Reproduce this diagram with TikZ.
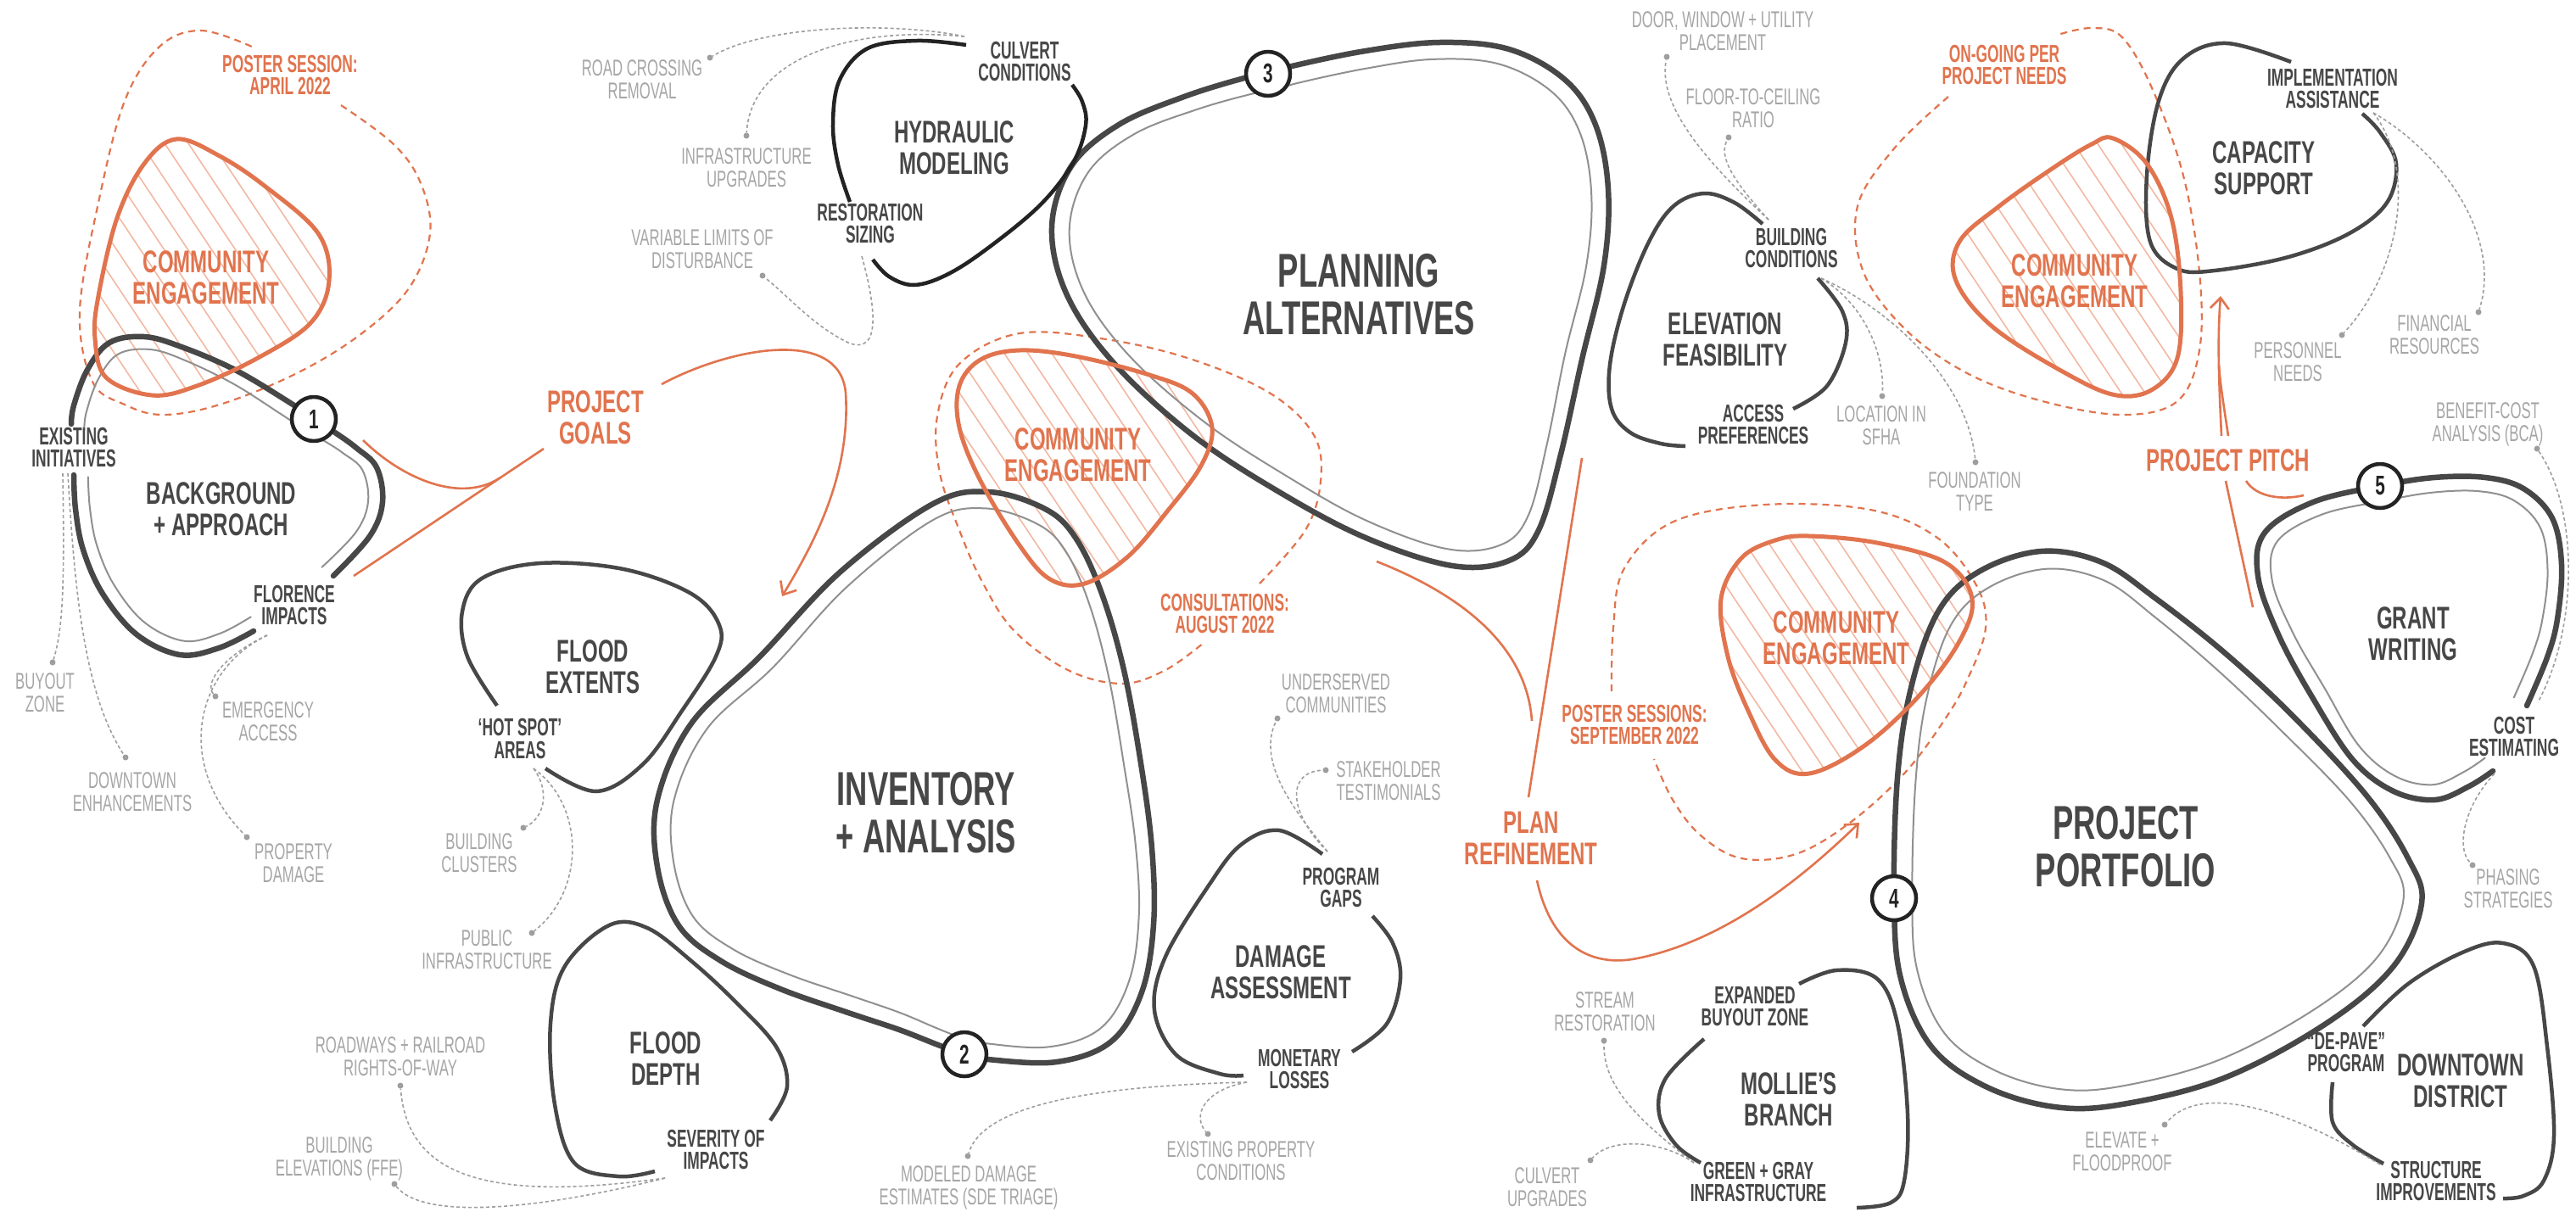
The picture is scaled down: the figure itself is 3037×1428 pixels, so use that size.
\documentclass[tikz,border=0pt]{standalone}
\usepackage{fontspec}
\setmainfont{Liberation Sans}
\newfontfamily\cfont[FakeStretch=0.65]{Liberation Sans}
\newfontfamily\sfont[FakeStretch=0.6]{Liberation Sans}
\newfontfamily\gfont[FakeStretch=0.62]{Liberation Sans}
\usetikzlibrary{arrows.meta}
\definecolor{dk}{HTML}{474747}
\definecolor{blk}{HTML}{232323}
\definecolor{org}{HTML}{E1744E}
\definecolor{hat}{HTML}{F3B9A2}
\definecolor{gtx}{HTML}{A6A6A6}
\definecolor{gln}{HTML}{9E9E9E}
\definecolor{thn}{HTML}{909090}

\newcommand\mkpts[4]{%
  \gdef\ptsout{}\gdef\ptsin{}%
  \foreach \ppx/\ppy in {#1}{%
    \pgfmathsetmacro\qdx{(#2-\ppx)/100}%
    \pgfmathsetmacro\qdy{(#3-\ppy)/100}%
    \pgfmathsetmacro\qll{sqrt((\qdx)*(\qdx)+(\qdy)*(\qdy))}%
    \pgfmathsetmacro\qxi{\ppx+#4*(\qdx)/\qll}%
    \pgfmathsetmacro\qyi{\ppy+#4*(\qdy)/\qll}%
    \xdef\ptsout{\ptsout(\ppx,\ppy)}%
    \xdef\ptsin{\ptsin(\qxi,\qyi)}%
  }}
\newcommand\drawdbl[1]{%
  \edef\tmpa{\noexpand\draw[outerln] plot[#1] coordinates {\ptsout};}\tmpa
  \edef\tmpb{\noexpand\draw[innerln] plot[#1] coordinates {\ptsin};}\tmpb}
\newcommand\hatchblob[3]{%
  \begin{scope}
    \clip plot[smooth cycle,tension=0.6] coordinates {#1};
    \foreach \k in {0,...,26}{\draw[hatchln] ({#2-320+\k*28},{#3-10}) -- ++(300,450);}
  \end{scope}}
\newcommand\ceoutline[1]{\draw[celn] plot[smooth cycle,tension=0.6] coordinates {#1};}

\def\ceA{(208,164)(259,184)(313,220)(375,275)(388,331)(366,381)(304,422)(232,455)(179,466)(125,445)(112,399)(116,349)(138,257)(170,193)}
\def\ceB{(1202,413)(1268,420)(1355,442)(1406,464)(1429,504)(1416,549)(1376,603)(1330,656)(1279,688)(1238,683)(1202,643)(1156,567)(1131,504)(1131,455)(1156,424)}
\def\ceC{(2491,163)(2531,193)(2560,257)(2571,344)(2567,422)(2538,459)(2495,466)(2437,441)(2350,386)(2306,331)(2310,285)(2357,243)(2422,197)(2466,170)}
\def\ceD{(2133,632)(2213,640)(2293,663)(2325,706)(2309,758)(2261,822)(2197,880)(2133,912)(2093,896)(2061,838)(2037,774)(2029,706)(2053,658)(2093,637)}

\begin{document}
\begin{tikzpicture}[x=1pt,y=-1pt,
  outerln/.style={dk,line width=6.5pt,line cap=round,line join=round},
  innerln/.style={thn,line width=2pt,line cap=round},
  blobln/.style={dk,line width=4.5pt},
  hydln/.style={blk,line width=4.5pt},
  celn/.style={org,line width=5pt},
  hatchln/.style={hat,line width=1.6pt},
  odash/.style={org,line width=2.2pt,dash pattern=on 8pt off 6pt},
  oline/.style={org,line width=2.6pt},
  oarrow/.style={org,line width=2.6pt,-{Straight Barb[length=13pt,width=22pt]}},
  gdash/.style={gln,line width=1.6pt,dash pattern=on 4pt off 3pt},
  gdot/.style={circle,fill=gln,inner sep=0pt,minimum size=7pt},
  numc/.style={circle,draw=blk,line width=4.5pt,fill=white,minimum size=52pt,inner sep=0pt,font=\cfont\bfseries\fontsize{32}{32}\selectfont,text=blk},
  bigt/.style={align=center,inner sep=0pt,text=dk,font=\cfont\bfseries\fontsize{56}{56}\selectfont},
  medt/.style={align=center,inner sep=0pt,text=dk,font=\cfont\bfseries\fontsize{37}{37}\selectfont},
  smlt/.style={align=center,inner sep=0pt,text=dk,font=\sfont\bfseries\fontsize{29}{26}\selectfont},
  gryt/.style={align=center,inner sep=0pt,text=gtx,font=\gfont\fontsize{27}{27}\selectfont},
  cet/.style={align=center,inner sep=0pt,text=org,font=\cfont\bfseries\fontsize{37}{37}\selectfont},
  osml/.style={align=center,inner sep=0pt,text=org,font=\sfont\bfseries\fontsize{29}{26}\selectfont}
]
\useasboundingbox (0,0) rectangle (3037,1428);
\fill[white] (0,0) rectangle (3037,1428);

% ---------- dashed orange envelopes
\draw[odash] plot[smooth,tension=0.6] coordinates {(402,124)(464,170)(496,216)(507,275)(482,340)(424,395)(348,441)(259,477)(192,489)(147,477)(109,450)(94,367)(116,239)(147,119)(188,55)(237,36)(297,55)};
\draw[odash] plot[smooth,tension=0.6] coordinates {(1485,688)(1539,625)(1557,567)(1549,513)(1498,464)(1406,424)(1304,400)(1202,393)(1131,429)(1105,491)(1108,558)(1131,625)(1157,684)(1195,743)(1259,790)(1323,806)(1374,790)(1419,758)};
\draw[odash] plot[smooth,tension=0.6] coordinates {(2297,114)(2234,174)(2190,243)(2197,321)(2248,390)(2321,441)(2408,473)(2502,489)(2567,473)(2593,413)(2593,321)(2574,207)(2538,106)(2502,44)(2466,33)(2426,41)};
\draw[odash] plot[smooth,tension=0.6] coordinates {(1900,815)(1902,740)(1915,670)(1973,615)(2081,595)(2205,601)(2284,634)(2330,690)(2341,740)(2320,800)(2293,848)(2245,912)(2181,970)(2117,1007)(2053,1012)(2005,985)(1972,943)(1950,895)};

% ---------- hatching
\hatchblob{\ceA}{112}{164}
\hatchblob{\ceB}{1131}{413}
\hatchblob{\ceC}{2306}{163}
\hatchblob{\ceD}{2029}{632}

% ---------- double blobs
\mkpts{299/744,258/764,212/772,161/748,121/700,98/648,89/600,87/560}{268}{585}{17}
\drawdbl{smooth,tension=0.6}
\mkpts{84/500,87/478,103/436,129/404,170/397,214/409,277/436,339/473,370/494,395/510,420/528,444/551,451/592,436/632,393/679}{268}{585}{17}
\drawdbl{smooth,tension=0.6}
\mkpts{1495/87,1523/78,1610/60,1697/50,1779/58,1845/94,1881/147,1896/223,1891/313,1865/424,1840/536,1814/625,1779/661,1712/667,1610/634,1508/580,1406/513,1314/429,1258/348,1240/268,1263/196,1319/147,1396/114,1467/92}{1600}{330}{21}
\drawdbl{smooth cycle,tension=0.6}
\mkpts{1100/594,1166/580,1232/600,1268/634,1299/700,1325/790,1345/900,1358/1000,1360/1090,1346/1170,1310/1228,1246/1252,1164/1249,1137/1243,1106/1232,1060/1214,1000/1194,920/1166,850/1133,800/1091,775/1022,775/943,815/853,896/774,991/674}{1075}{925}{20}
\drawdbl{smooth cycle,tension=0.6}
\mkpts{2406/650,2478/663,2542/706,2622/769,2702/843,2790/938,2839/1012,2855/1065,2822/1139,2742/1207,2622/1271,2502/1302,2422/1305,2341/1281,2277/1234,2241/1154,2233/1059,2237/917,2253/811,2285/721,2333/674}{2530}{990}{22}
\drawdbl{smooth cycle,tension=0.6}
\mkpts{2939/909,2911/927,2871/943,2822/933,2774/896,2726/822,2686/748,2662/679,2670/628,2727/592,2806/573,2870/563,2930/563,2975/576,3009/611,3020/666,3015/730,3003/775,2979/832}{2840}{745}{18}
\drawdbl{smooth,tension=0.6}

% ---------- single blobs
\draw[hydln] plot[smooth,tension=0.6] coordinates {(1139,53)(1081,48)(1023,57)(990,94)(982,146)(988,194)(1002,238)};
\draw[hydln] plot[smooth,tension=0.6] coordinates {(1029,306)(1048,326)(1077,336)(1114,325)(1160,296)(1225,243)(1265,192)(1280,148)(1276,120)(1264,100)};
\draw[blobln] plot[smooth,tension=0.6] coordinates {(2701,73)(2625,51)(2574,69)(2545,119)(2531,207)(2535,285)(2567,317)(2611,319)(2698,303)(2770,275)(2814,239)(2825,193)(2806,156)(2785,134)};
\draw[blobln] plot[smooth,tension=0.6] coordinates {(2078,264)(2045,239)(2009,228)(1973,243)(1944,285)(1915,358)(1898,430)(1900,482)(1922,510)(1958,523)(1987,526)};
\draw[blobln] plot[smooth,tension=0.6] coordinates {(2114,482)(2154,455)(2176,404)(2172,367)(2143,328)};
\draw[blobln] plot[smooth,tension=0.6] coordinates {(586,832)(551,774)(545,721)(568,682)(637,664)(735,671)(815,700)(848,737)(844,774)(804,838)(758,901)(703,933)(643,906)};
\draw[blobln] plot[smooth,tension=0.6] coordinates {(908,1321)(928,1281)(915,1234)(867,1181)(815,1133)(763,1094)(718,1091)(666,1139)(649,1207)(654,1302)(677,1371)(729,1387)(772,1381)};
\draw[blobln] plot[smooth,tension=0.6] coordinates {(1559,1007)(1508,979)(1463,996)(1425,1044)(1374,1128)(1361,1191)(1387,1244)(1438,1266)(1466,1268)};
\draw[blobln] plot[smooth,tension=0.6] coordinates {(1594,1240)(1635,1207)(1651,1154)(1642,1112)(1618,1080)};
\draw[blobln] plot[smooth,tension=0.6] coordinates {(2121,1160)(2165,1144)(2213,1154)(2237,1207)(2249,1313)(2245,1392)(2229,1418)(2189,1424)};
\draw[blobln] plot[smooth,tension=0.6] coordinates {(2009,1225)(1964,1271)(1956,1313)(1976,1350)(2005,1371)};
\draw[blobln] plot[smooth,tension=0.6] coordinates {(2786,1210)(2839,1160)(2903,1123)(2951,1112)(2987,1139)(3003,1234)(3011,1339)(2999,1392)(2975,1410)(2951,1413)};
\draw[blobln] plot[smooth,tension=0.6] coordinates {(2750,1276)(2750,1323)(2774,1350)(2810,1372)};

% ---------- community engagement outlines
\ceoutline{\ceA}
\ceoutline{\ceB}
\ceoutline{\ceC}
\ceoutline{\ceD}

% ---------- text nodes
\node[bigt] (plan) at (1602,347) {PLANNING\\ALTERNATIVES};
\node[bigt] (inv) at (1092,958) {INVENTORY\\+ ANALYSIS};
\node[bigt] (port) at (2506,998) {PROJECT\\PORTFOLIO};

\node[medt] (bg) at (261,600) {BACKGROUND\\+ APPROACH};
\node[medt] (hyd) at (1125,174) {HYDRAULIC\\MODELING};
\node[medt] (fext) at (699,786) {FLOOD\\EXTENTS};
\node[medt] (fdep) at (785,1248) {FLOOD\\DEPTH};
\node[medt] (dmg) at (1510,1146) {DAMAGE\\ASSESSMENT};
\node[medt] (elev) at (2034,400) {ELEVATION\\FEASIBILITY};
\node[medt] (cap) at (2669,198) {CAPACITY\\SUPPORT};
\node[medt] (grant) at (2845,747) {GRANT\\WRITING};
\node[medt] (mol) at (2109,1296) {MOLLIE’S\\BRANCH};
\node[medt] (dtd) at (2901,1274) {DOWNTOWN\\DISTRICT};

\node[cet] (ce1) at (243,327) {COMMUNITY\\ENGAGEMENT};
\node[cet] (ce2) at (1271,536) {COMMUNITY\\ENGAGEMENT};
\node[cet] (ce3) at (2446,331) {COMMUNITY\\ENGAGEMENT};
\node[cet] (ce4) at (2165,752) {COMMUNITY\\ENGAGEMENT};
\node[cet] (goals) at (702,492) {PROJECT\\GOALS};
\node[cet] (refine) at (1805,988) {PLAN\\REFINEMENT};
\node[cet] (pitch) at (2627,543) {PROJECT PITCH};

\node[osml] (ps1) at (342,89) {POSTER SESSION:\\APRIL 2022};
\node[osml] (cons) at (1444,724) {CONSULTATIONS:\\AUGUST 2022};
\node[osml] (ongo) at (2363,77) {ON-GOING PER\\PROJECT NEEDS};
\node[osml] (ps2) at (1927,854) {POSTER SESSIONS:\\SEPTEMBER 2022};

\node[smlt] (exi) at (87,528) {EXISTING\\INITIATIVES};
\node[smlt] (flo) at (347,714) {FLORENCE\\IMPACTS};
\node[smlt] (hot) at (613,871) {‘HOT SPOT’\\AREAS};
\node[smlt] (sev) at (844,1355) {SEVERITY OF\\IMPACTS};
\node[smlt] (culv) at (1208,73) {CULVERT\\CONDITIONS};
\node[smlt] (rest) at (1026,264) {RESTORATION\\SIZING};
\node[smlt] (prog) at (1581,1046) {PROGRAM\\GAPS};
\node[smlt] (mon) at (1532,1260) {MONETARY\\LOSSES};
\node[smlt] (bld) at (2112,293) {BUILDING\\CONDITIONS};
\node[smlt] (acc) at (2067,501) {ACCESS\\PREFERENCES};
\node[smlt] (impl) at (2750,105) {IMPLEMENTATION\\ASSISTANCE};
\node[smlt] (cost) at (2964,868) {COST\\ESTIMATING};
\node[smlt] (expd) at (2069,1187) {EXPANDED\\BUYOUT ZONE};
\node[smlt] (ggi) at (2073,1393) {GREEN + GRAY\\INFRASTRUCTURE};
\node[smlt] (dpv) at (2766,1241) {“DE-PAVE”\\PROGRAM};
\node[smlt] (stru) at (2872,1392) {STRUCTURE\\IMPROVEMENTS};

\node[gryt] (buy) at (53,817) {BUYOUT\\ZONE};
\node[gryt] (dte) at (156,934) {DOWNTOWN\\ENHANCEMENTS};
\node[gryt] (emg) at (316,851) {EMERGENCY\\ACCESS};
\node[gryt] (prd) at (346,1018) {PROPERTY\\DAMAGE};
\node[gryt] (bcl) at (565,1006) {BUILDING\\CLUSTERS};
\node[gryt] (pub) at (574,1120) {PUBLIC\\INFRASTRUCTURE};
\node[gryt] (road) at (472,1246) {ROADWAYS + RAILROAD\\RIGHTS-OF-WAY};
\node[gryt] (bel) at (400,1366) {BUILDING\\ELEVATIONS (FFE)};
\node[gryt] (rcr) at (757,94) {ROAD CROSSING\\REMOVAL};
\node[gryt] (iup) at (880,198) {INFRASTRUCTURE\\UPGRADES};
\node[gryt] (vlim) at (828,294) {VARIABLE LIMITS OF\\DISTURBANCE};
\node[gryt] (mde) at (1142,1400) {MODELED DAMAGE\\ESTIMATES (SDE TRIAGE)};
\node[gryt] (epc) at (1463,1369) {EXISTING PROPERTY\\CONDITIONS};
\node[gryt] (und) at (1575,818) {UNDERSERVED\\COMMUNITIES};
\node[gryt] (stk) at (1637,921) {STAKEHOLDER\\TESTIMONIALS};
\node[gryt] (door) at (2031,37) {DOOR, WINDOW + UTILITY\\PLACEMENT};
\node[gryt] (ftc) at (2067,128) {FLOOR-TO-CEILING\\RATIO};
\node[gryt] (loc) at (2218,502) {LOCATION IN\\SFHA};
\node[gryt] (fnd) at (2328,580) {FOUNDATION\\TYPE};
\node[gryt] (pers) at (2709,427) {PERSONNEL\\NEEDS};
\node[gryt] (fin) at (2870,395) {FINANCIAL\\RESOURCES};
\node[gryt] (bca) at (2933,500) {BENEFIT-COST\\ANALYSIS (BCA)};
\node[gryt] (phs) at (2957,1048) {PHASING\\STRATEGIES};
\node[gryt] (strm) at (1892,1193) {STREAM\\RESTORATION};
\node[gryt] (cup) at (1824,1400) {CULVERT\\UPGRADES};
\node[gryt] (elf) at (2502,1358) {ELEVATE +\\FLOODPROOF};

% ---------- orange connectors
\coordinate (g1) at (417,679);
\coordinate (g2) at (641,529);
\coordinate (g3) at (428,519);
\coordinate (g4) at (590,563);
\coordinate (g5) at (780,453);
\coordinate (g6) at (922,703);
\draw[oline] (g1) -- (g2);
\draw[oline] (g3) .. controls (475,565) and (544,594) .. (g4);
\draw[oarrow] (g5) .. controls (860,410) and (990,385) .. (997,463) .. controls (1003,560) and (960,640) .. (g6);

\coordinate (r1) at (1865,540);
\coordinate (r2) at (1802,940);
\coordinate (r3) at (1623,662);
\coordinate (r4) at (1806,850);
\coordinate (r5) at (1812,1038);
\coordinate (r6) at (2192,970);
\draw[oline] (r1) -- (r2);
\draw[oline] (r3) .. controls (1720,700) and (1800,760) .. (r4);
\draw[oarrow] (r5) .. controls (1830,1120) and (1880,1140) .. (1930,1130) .. controls (2030,1110) and (2120,1040) .. (r6);

\coordinate (p1) at (2619,514);
\coordinate (p1b) at (2627,514);
\coordinate (p1c) at (2616,430);
\coordinate (p2) at (2618,349);
\coordinate (p3) at (2624,567);
\coordinate (p4) at (2656,716);
\coordinate (p5) at (2648,567);
\coordinate (p6) at (2716,584);
\draw[oarrow] (p1) .. controls (2616,450) and (2614,400) .. (p2);
\draw[oline] (p1b) .. controls (2622,480) and (2617,450) .. (p1c);
\draw[oline] (p3) -- (p4);
\draw[oline] (p5) .. controls (2660,586) and (2690,590) .. (p6);

% ---------- gray dashed leaders
\node[gdot] (d1) at (62,781) {};
\node[gdot] (d2) at (148,893) {};
\node[gdot] (d3) at (254,821) {};
\node[gdot] (d4) at (291,987) {};
\node[gdot] (d5) at (617,976) {};
\node[gdot] (d6) at (627,1100) {};
\node[gdot] (d7) at (472,1280) {};
\node[gdot] (d8) at (465,1396) {};
\node[gdot] (d9) at (837,68) {};
\node[gdot] (d10) at (880,160) {};
\node[gdot] (d11) at (899,325) {};
\node[gdot] (d12) at (1965,67) {};
\node[gdot] (d13) at (2038,162) {};
\node[gdot] (d14) at (2219,467) {};
\node[gdot] (d15) at (2329,545) {};
\node[gdot] (d16) at (2761,395) {};
\node[gdot] (d17) at (2922,368) {};
\node[gdot] (d18) at (2991,529) {};
\node[gdot] (d19) at (2915,1020) {};
\node[gdot] (d20) at (1506,847) {};
\node[gdot] (d21) at (1563,908) {};
\node[gdot] (d22) at (1141,1363) {};
\node[gdot] (d23) at (1424,1337) {};
\node[gdot] (d24) at (1891,1227) {};
\node[gdot] (d25) at (1875,1368) {};
\node[gdot] (d26) at (2552,1326) {};

\coordinate (s1) at (74,558);
\coordinate (s2) at (80,558);
\coordinate (s3) at (315,749);
\coordinate (s4) at (629,906);
\coordinate (s5) at (784,1389);
\coordinate (s6) at (1137,43);
\coordinate (s7) at (1016,302);
\coordinate (s8) at (2085,259);
\coordinate (s9) at (2147,328);
\coordinate (s10) at (2798,133);
\coordinate (s11) at (2992,828);
\coordinate (s12) at (2941,912);
\coordinate (s13) at (1565,1004);
\coordinate (s14) at (1470,1276);
\coordinate (s15) at (1997,1371);
\coordinate (s16) at (2806,1373);

\draw[gdash] (s1) .. controls (76,680) and (75,740) .. (d1);
\draw[gdash] (s2) .. controls (88,700) and (100,820) .. (d2);
\draw[gdash] (s3) .. controls (265,772) and (240,805) .. (d3);
\draw[gdash] (s3) .. controls (230,790) and (205,900) .. (d4);
\draw[gdash] (s4) .. controls (650,935) and (640,965) .. (d5);
\draw[gdash] (s4) .. controls (690,950) and (690,1050) .. (d6);
\draw[gdash] (s5) .. controls (560,1420) and (480,1380) .. (d7);
\draw[gdash] (s5) .. controls (640,1425) and (500,1440) .. (d8);
\draw[gdash] (s6) .. controls (1050,25) and (900,30) .. (d9);
\draw[gdash] (s6) .. controls (1000,30) and (885,70) .. (d10);
\draw[gdash] (s7) .. controls (1032,360) and (1040,420) .. (1000,404) .. controls (960,385) and (930,350) .. (d11);
\draw[gdash] (s8) .. controls (2000,180) and (1955,120) .. (d12);
\draw[gdash] (s8) .. controls (2045,215) and (2025,185) .. (d13);
\draw[gdash] (s9) .. controls (2200,360) and (2222,420) .. (d14);
\draw[gdash] (s9) .. controls (2230,365) and (2320,450) .. (d15);
\draw[gdash] (s10) .. controls (2850,200) and (2830,320) .. (d16);
\draw[gdash] (s10) .. controls (2880,180) and (2950,280) .. (d17);
\draw[gdash] (d18) .. controls (3040,600) and (3040,740) .. (s11);
\draw[gdash] (s12) .. controls (2905,950) and (2895,1000) .. (d19);
\draw[gdash] (s13) .. controls (1530,960) and (1480,900) .. (d20);
\draw[gdash] (s13) .. controls (1520,960) and (1515,910) .. (d21);
\draw[gdash] (s14) .. controls (1300,1280) and (1160,1300) .. (d22);
\draw[gdash] (s14) .. controls (1420,1285) and (1405,1315) .. (d23);
\draw[gdash] (s15) .. controls (1930,1320) and (1890,1280) .. (d24);
\draw[gdash] (s15) .. controls (1960,1345) and (1900,1340) .. (d25);
\draw[gdash] (s16) .. controls (2720,1320) and (2600,1270) .. (d26);

% ---------- numbered circles
\node[numc] (n1) at (370,494) {1};
\node[numc] (n2) at (1137,1243) {2};
\node[numc] (n3) at (1495,87) {3};
\node[numc] (n4) at (2233,1059) {4};
\node[numc] (n5) at (2806,573) {5};
\end{tikzpicture}
\end{document}
